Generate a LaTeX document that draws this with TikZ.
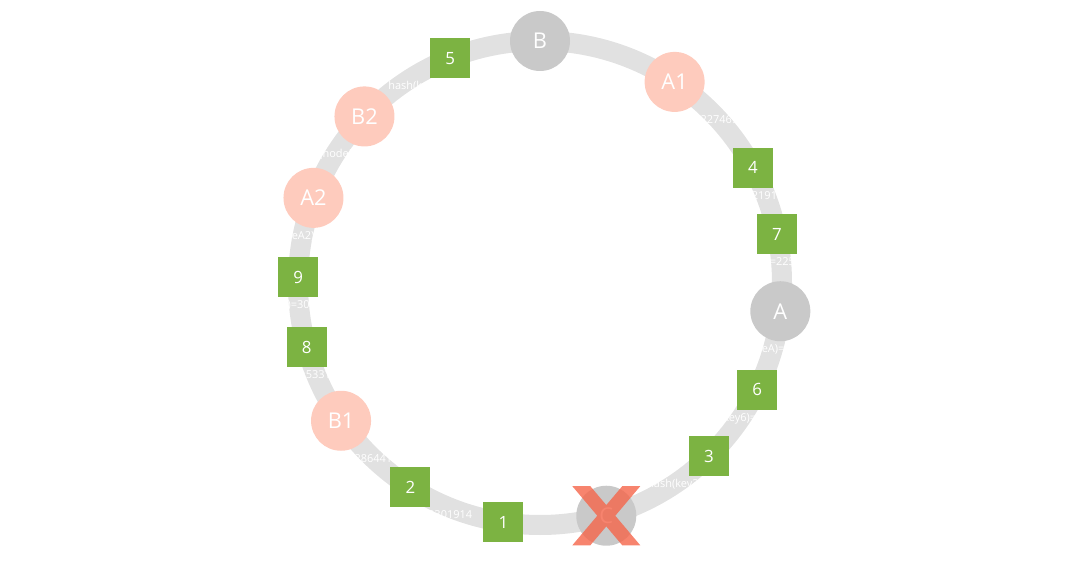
\documentclass[tikz,border=0pt]{standalone}
\usepackage{fontspec}
\setmainfont{Open Sans}
\usetikzlibrary{positioning}
\definecolor{ring}{HTML}{E1E1E1}
\definecolor{srv}{HTML}{C9C9C9}
\definecolor{vnode}{HTML}{FECBBD}
\definecolor{keybox}{HTML}{7CB342}
\definecolor{cross}{HTML}{F5654A}
\tikzset{
  server/.style={circle,fill=srv,minimum size=1.5cm,inner sep=0,text=white,font=\fontsize{15.5}{18}\selectfont},
  virt/.style={server,fill=vnode},
  keysq/.style={rectangle,fill=keybox,minimum size=1cm,inner sep=0,text=white,font=\fontsize{12}{14}\selectfont},
  hashlbl/.style={inner sep=0,text=white,font=\fontsize{7.8}{9}\selectfont}
}
\begin{document}
\begin{tikzpicture}[line join=round]
  \useasboundingbox (-13.5,-7.425) rectangle (13.5,7.075);
  \def\R{6.05}
  % ---- hash ring ----
  \draw[ring,line width=0.5cm] (0,0) circle (\R);
  % ---- servers ----
  \node[server] (nB) at (90:\R) {B};
  \node[server] (nA) at (-6.7:\R) {A};
  \node[server] (nC) at (-74.1:\R) {C};
  % ---- virtual nodes ----
  \foreach \a/\n in {56.2/A1,159.4/A2,214.7/B1,136.5/B2}{
    \node[virt] (n\n) at (\a:\R) {\n};
  }
  % ---- keys ----
  \foreach \a/\k in {261.3/1,237.6/2,-45.7/3,28.4/4,111.8/5,-26.2/6,11.6/7,195.4/8,178.6/9}{
    \node[keysq] (k\k) at (\a:\R) {\k};
  }
  % ---- hash values (white, only seen where they cross the ring) ----
  \foreach \m/\t in {nA/hash(nodeA)=2473361508,nA1/hash(nodeA1)=1352274695,nA2/hash(nodeA2)=2675910342,
                     nB1/hash(nodeB1)=3286441570,nB2/hash(nodeB2)=2038417566,
                     k2/hash(key2)=3842301914,k3/hash(key3)=2793541806,k4/hash(key4)=2191806537,
                     k5/hash(key5)=1937462058,k6/hash(key6)=2598803471,k7/hash(key7)=2254019836,
                     k8/hash(key8)=5331296407,k9/hash(key9)=3016283745}{
    \node[hashlbl,below=0.06cm of \m] (t\m) {\t};
  }
  % ---- server C is down ----
  \begin{scope}[shift={(nC)}]
    \fill[cross,opacity=0.8] (-0.85,0.74) -- (-0.4,0.74) -- (0.85,-0.74) -- (0.4,-0.74) -- cycle
                             (0.4,0.74) -- (0.85,0.74) -- (-0.4,-0.74) -- (-0.85,-0.74) -- cycle;
  \end{scope}
\end{tikzpicture}
\end{document}
